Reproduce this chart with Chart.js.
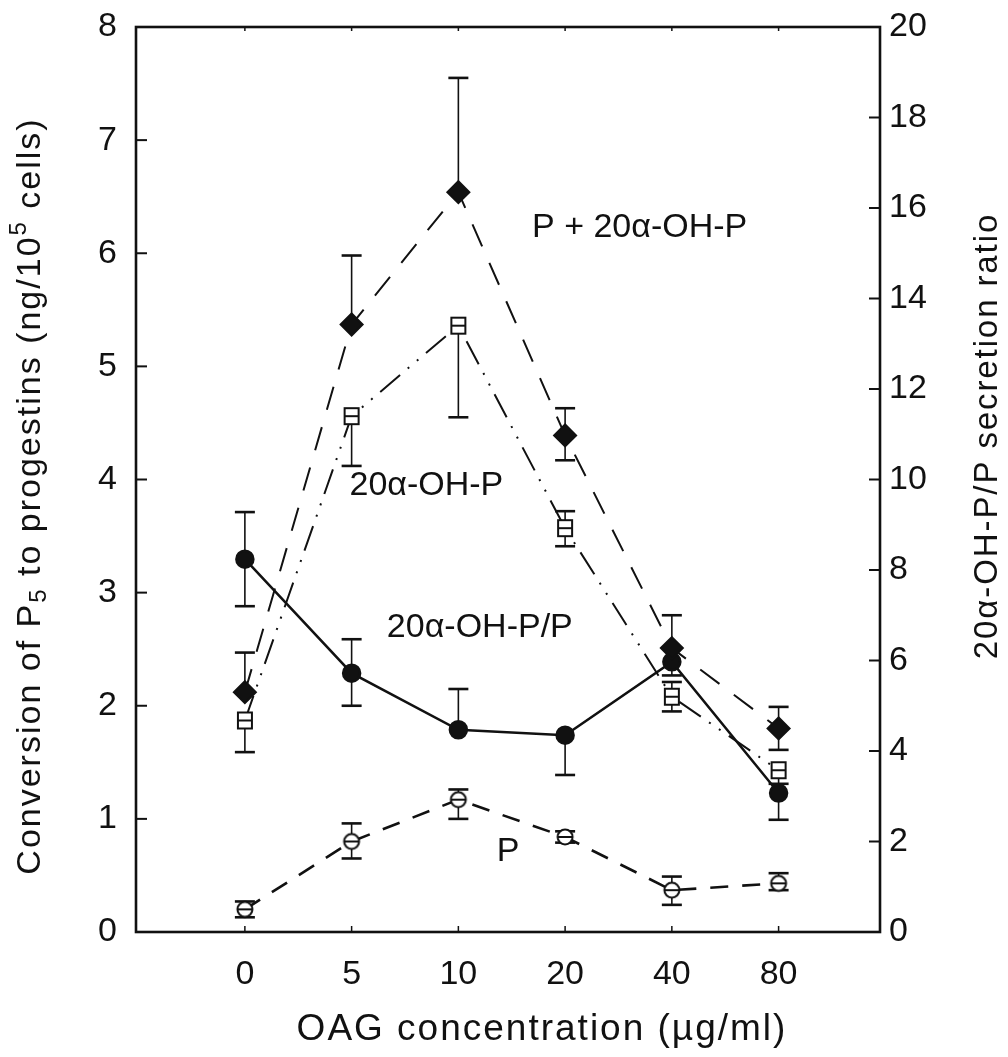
<!DOCTYPE html>
<html>
<head>
<meta charset="utf-8">
<script src="https://cdn.jsdelivr.net/npm/chart.js@4.4.1/dist/chart.umd.min.js"></script>
<style>
  html, body { margin: 0; padding: 0; background: #fff; }
  #wrap { width: 1008px; height: 1057px; }
</style>
</head>
<body>
<div id="wrap"><canvas id="chart"></canvas></div>
<script>
(function () {
  // ─── Data ──────────────────────────────────────────────
  var categories = ['0', '5', '10', '20', '40', '80'];
  var leftTickLabels = ['0', '1', '2', '3', '4', '5', '6', '7', '8'];
  var rightTickLabels = ['0', '2', '4', '6', '8', '10', '12', '14', '16', '18', '20'];

  // P + 20α-OH-P (ng/10^5 cells)
  var totalVals = [2.12, 5.37, 6.54, 4.39, 2.51, 1.80];
  var totalUp   = [0.35, 0.61, 1.01, 0.24, 0.29, 0.19];
  var totalDown = [0,    0,    0,    0.22, 0,    0.19];

  // 20α-OH-P
  var ohpVals = [1.87, 4.56, 5.36, 3.57, 2.08, 1.43];
  var ohpUp   = [0,    0,    0,    0.15, 0.13, 0];
  var ohpDown = [0.28, 0.44, 0.81, 0.16, 0.13, 0.12];

  // 20α-OH-P/P ratio (right axis)
  var ratioVals = [8.24, 5.72, 4.47, 4.35, 5.97, 3.07];
  var ratioUp   = [1.04, 0.75, 0.90, 0,    0.30, 0];
  var ratioDown = [1.04, 0.72, 0,    0.88, 0.30, 0.59];

  // P
  var pVals = [0.20, 0.80, 1.17, 0.84, 0.37, 0.43];
  var pUp   = [0.07, 0.16, 0.09, 0.05, 0.12, 0.09];
  var pDown = [0.07, 0.15, 0.17, 0.05, 0.13, 0.06];

  var FONT = '"Liberation Sans", Arial, Helvetica, sans-serif';
  var INK = '#111';

  function pts(vals) {
    return vals.map(function (v, i) { return { x: i, y: v }; });
  }

  // ─── Marker glyphs ─────────────────────────────────────
  function squareMarker() {
    var c = document.createElement('canvas');
    c.width = 20; c.height = 22;
    var g = c.getContext('2d');
    g.fillStyle = '#fff'; g.strokeStyle = INK; g.lineWidth = 2;
    g.beginPath(); g.rect(3, 3, 14, 16); g.fill(); g.stroke();
    g.beginPath(); g.moveTo(3, 11); g.lineTo(17, 11); g.stroke();
    return c;
  }
  function thetaMarker() {
    var c = document.createElement('canvas');
    c.width = 20; c.height = 20;
    var g = c.getContext('2d');
    g.fillStyle = '#fff'; g.strokeStyle = INK; g.lineWidth = 2;
    g.beginPath(); g.arc(10, 10, 7.5, 0, Math.PI * 2); g.fill(); g.stroke();
    g.beginPath(); g.moveTo(2.5, 10); g.lineTo(17.5, 10); g.stroke();
    return c;
  }

  // ─── Helpers ───────────────────────────────────────────
  function seg(ctx, x1, y1, x2, y2) {
    ctx.beginPath(); ctx.moveTo(x1, y1); ctx.lineTo(x2, y2); ctx.stroke();
  }

  function drawRich(ctx, parts, cx, cy, rot, size, spacing) {
    ctx.save();
    ctx.translate(cx, cy);
    ctx.rotate(rot);
    ctx.fillStyle = INK;
    ctx.textAlign = 'left';
    ctx.textBaseline = 'middle';
    if ('letterSpacing' in ctx) ctx.letterSpacing = spacing + 'px';
    var total = 0;
    parts.forEach(function (p) {
      ctx.font = Math.round(size * (p.s || 1)) + 'px ' + FONT;
      p.w = ctx.measureText(p.t).width;
      total += p.w;
    });
    var x = -total / 2;
    parts.forEach(function (p) {
      ctx.font = Math.round(size * (p.s || 1)) + 'px ' + FONT;
      ctx.fillText(p.t, x, (p.dy || 0) * size);
      x += p.w;
    });
    ctx.restore();
  }

  // ─── Plugins ───────────────────────────────────────────
  var errorBars = {
    id: 'errorBars',
    beforeDatasetsDraw: function (chart) {
      var ctx = chart.ctx;
      var xs = chart.scales.x;
      ctx.save();
      ctx.strokeStyle = INK;
      chart.data.datasets.forEach(function (ds) {
        var ys = chart.scales[ds.yAxisID || 'y'];
        ds.data.forEach(function (p, j) {
          var px = xs.getPixelForValue(p.x);
          var py = ys.getPixelForValue(p.y);
          [ds.errUp[j], -ds.errDown[j]].forEach(function (e) {
            if (!e) return;
            var ty = ys.getPixelForValue(p.y + e);
            ctx.lineWidth = 1.6;
            seg(ctx, px, py, px, ty);
            ctx.lineWidth = 2.6;
            seg(ctx, px - 10, ty, px + 10, ty);
          });
        });
      });
      ctx.restore();
    }
  };

  var frame = {
    id: 'frame',
    afterDraw: function (chart) {
      var ctx = chart.ctx, a = chart.chartArea;
      var xs = chart.scales.x, ys = chart.scales.y, y2 = chart.scales.y2;
      ctx.save();
      ctx.strokeStyle = INK;
      ctx.lineWidth = 2.6;
      ctx.strokeRect(a.left, a.top, a.right - a.left, a.bottom - a.top);
      ctx.lineWidth = 2;
      ys.ticks.forEach(function (t) {
        var py = ys.getPixelForValue(t.value);
        seg(ctx, a.left, py, a.left + 11, py);
      });
      y2.ticks.forEach(function (t) {
        var py = y2.getPixelForValue(t.value);
        seg(ctx, a.right - 11, py, a.right, py);
      });
      ctx.lineWidth = 1.5;
      categories.forEach(function (c, i) {
        var px = xs.getPixelForValue(i);
        seg(ctx, px, a.bottom, px, a.bottom - 6);
        seg(ctx, px, a.top, px, a.top + 4);
      });
      ctx.restore();

      // axis titles
      drawRich(ctx, [
        { t: 'Conversion of P' },
        { t: '5', s: 0.7, dy: 0.25 },
        { t: ' to progestins (ng/10' },
        { t: '5', s: 0.7, dy: -0.35 },
        { t: ' cells)' }
      ], 31, 496, -Math.PI / 2, 34, 2);
      drawRich(ctx, [{ t: '20α-OH-P/P secretion ratio' }], 988, 436, -Math.PI / 2, 33, 1.9);
      drawRich(ctx, [{ t: 'OAG concentration (µg/ml)' }], 542, 1030, 0, 37, 2);

      // series labels inside the plot
      var notes = [
        { t: 'P + 20α-OH-P', x: 2.69, y: 6.23 },
        { t: '20α-OH-P', x: 0.98, y: 3.95 },
        { t: '20α-OH-P/P', x: 1.33, y: 2.69 },
        { t: 'P', x: 2.36, y: 0.71 }
      ];
      ctx.save();
      ctx.fillStyle = INK;
      ctx.font = '34px ' + FONT;
      ctx.textAlign = 'left';
      ctx.textBaseline = 'middle';
      notes.forEach(function (n) {
        ctx.fillText(n.t, xs.getPixelForValue(n.x), ys.getPixelForValue(n.y));
      });
      ctx.restore();
    }
  };

  // ─── Chart ─────────────────────────────────────────────
  var tickFont = { family: FONT, size: 34 };

  function fixVertical(w) {
    return function (s) { s.width = w; s.paddingTop = 0; s.paddingBottom = 0; };
  }

  new Chart(document.getElementById('chart'), {
    type: 'line',
    data: {
      datasets: [
        {
          label: 'P + 20α-OH-P',
          data: pts(totalVals), errUp: totalUp, errDown: totalDown,
          yAxisID: 'y',
          borderColor: INK, borderWidth: 2, borderDash: [24, 18],
          pointStyle: 'rectRot', pointRadius: 11,
          pointBackgroundColor: INK, pointBorderColor: INK
        },
        {
          label: '20α-OH-P/P',
          data: pts(ratioVals), errUp: ratioUp, errDown: ratioDown,
          yAxisID: 'y2',
          borderColor: INK, borderWidth: 2.5,
          pointStyle: 'circle', pointRadius: 8.5,
          pointBackgroundColor: INK, pointBorderColor: INK
        },
        {
          label: '20α-OH-P',
          data: pts(ohpVals), errUp: ohpUp, errDown: ohpDown,
          yAxisID: 'y',
          borderColor: INK, borderWidth: 2, borderDash: [26, 10, 2, 10, 2, 10],
          pointStyle: squareMarker()
        },
        {
          label: 'P',
          data: pts(pVals), errUp: pUp, errDown: pDown,
          yAxisID: 'y',
          borderColor: INK, borderWidth: 2.6, borderDash: [18, 14],
          pointStyle: thetaMarker()
        }
      ]
    },
    options: {
      responsive: true,
      maintainAspectRatio: false,
      animation: false,
      layout: { padding: { top: 27, left: 0, right: 0, bottom: 0 } },
      plugins: { legend: { display: false }, tooltip: { enabled: false } },
      elements: { line: { tension: 0, fill: false } },
      scales: {
        x: {
          type: 'linear', min: -1.02, max: 5.95,
          grid: { display: false, drawTicks: false },
          border: { display: false },
          ticks: {
            stepSize: 1, includeBounds: false, autoSkip: false, maxRotation: 0,
            padding: 22, color: INK, font: tickFont,
            callback: function (v) { return categories[v] !== undefined ? categories[v] : ''; }
          },
          afterFit: function (s) { s.height = 125; s.paddingLeft = 0; s.paddingRight = 0; }
        },
        y: {
          position: 'left', min: 0, max: 8,
          grid: { display: false, drawTicks: false },
          border: { display: false },
          ticks: {
            stepSize: 1, padding: 19, color: INK, font: tickFont,
            callback: function (v) { return leftTickLabels[v]; }
          },
          afterFit: fixVertical(136)
        },
        y2: {
          position: 'right', min: 0, max: 20,
          grid: { display: false, drawTicks: false },
          border: { display: false },
          ticks: {
            stepSize: 2, padding: 9, color: INK, font: tickFont,
            callback: function (v) { return rightTickLabels[v / 2]; }
          },
          afterFit: fixVertical(128)
        }
      }
    },
    plugins: [errorBars, frame]
  });
})();
</script>
</body>
</html>
